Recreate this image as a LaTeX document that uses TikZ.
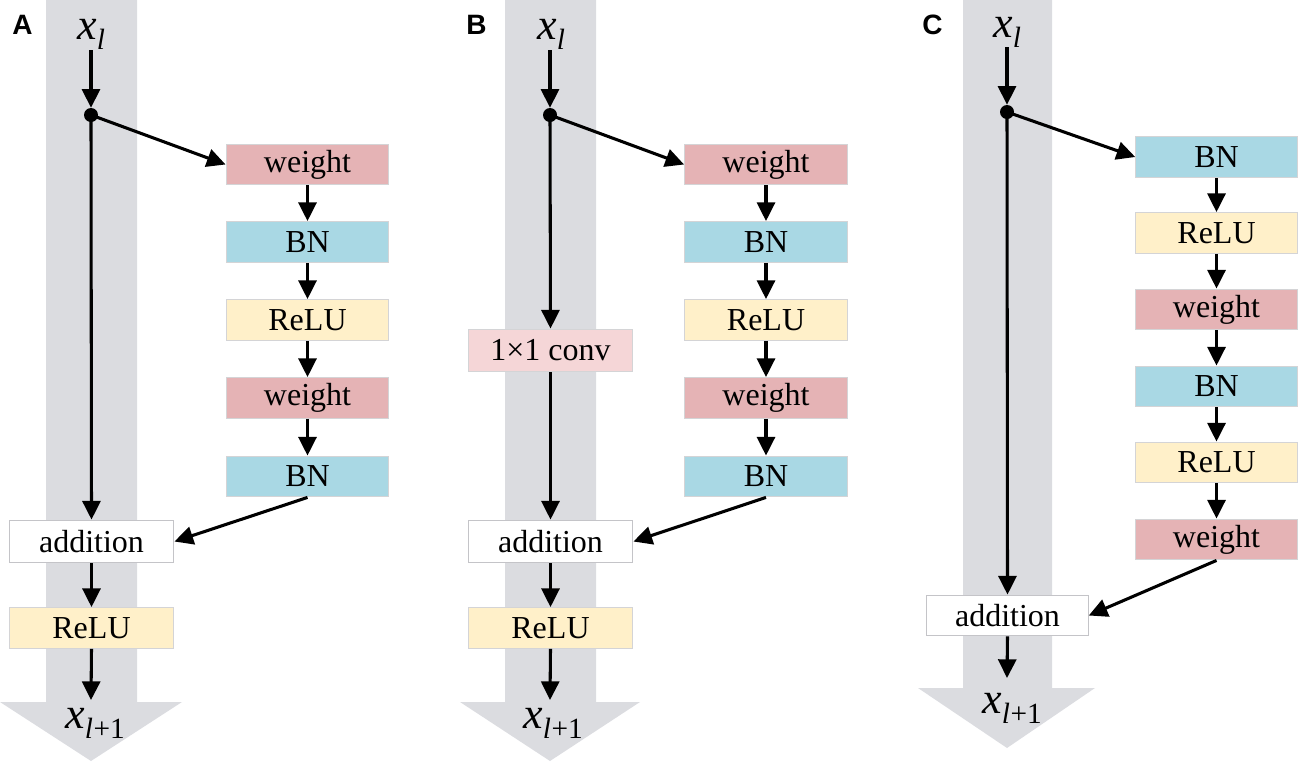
\documentclass[tikz,border=0pt]{standalone}
\usepackage{fontspec}
\setmainfont{Liberation Serif}
\newfontfamily\lsans{Liberation Sans}
\usetikzlibrary{arrows.meta}
\definecolor{colbg}{HTML}{DBDCE0}
\definecolor{wcol}{HTML}{E5B3B5}
\definecolor{bncol}{HTML}{A9D8E4}
\definecolor{rcol}{HTML}{FFF0C9}
\definecolor{ccol}{HTML}{F5D6D7}
\definecolor{bline}{HTML}{D4D4D6}
\definecolor{aline}{HTML}{C4C4C8}
\newcommand\xsubl{\fontsize{33}{33}\selectfont\textit{x}\raisebox{-8pt}{\fontsize{22}{22}\selectfont\textit{l}}}
\newcommand\xsublp{\fontsize{33}{33}\selectfont\textit{x}\raisebox{-8pt}{\fontsize{22}{22}\selectfont\textit{l}\kern0.5pt+1}}
\tikzset{
  box/.style={draw=bline, line width=0.9pt, minimum width=122pt, minimum height=30.5pt, inner sep=0pt, font=\fontsize{24}{26}\selectfont},
  wbox/.style={box, fill=wcol},
  bnbox/.style={box, fill=bncol},
  rbox/.style={box, fill=rcol},
  cbox/.style={box, fill=ccol, minimum width=123.5pt, minimum height=32pt},
  abox/.style={box, draw=aline, fill=white, minimum width=123.5pt, minimum height=32pt},
  dotn/.style={circle, fill=black, inner sep=0pt, minimum size=10.5pt},
  arr/.style={line width=2.3pt, -{Triangle[length=14pt,width=13.5pt]}},
  lbl/.style={anchor=base west, inner sep=0pt},
  plbl/.style={anchor=base west, inner sep=0pt, font=\lsans\bfseries\fontsize{21}{22}\selectfont},
}
\begin{document}
\begin{tikzpicture}[x=0.75pt,y=-0.75pt]
\useasboundingbox (0,0) rectangle (1299,761);
% columns
\fill[colbg] (46,0) -- (137,0) -- (137,702) -- (182,702) -- (91,761) -- (0,702) -- (46,702) -- cycle;
\fill[colbg] (505,0) -- (596,0) -- (596,702) -- (640,702) -- (550,761) -- (460,702) -- (505,702) -- cycle;
\fill[colbg] (963,0) -- (1052,0) -- (1052,688) -- (1095,688) -- (1007,748) -- (918,688) -- (963,688) -- cycle;

% ---------- Panel A
\node[plbl] (labA) at (12,34) {A};
\node[lbl] (xA) at (77,39) {\xsubl};
\node[lbl] (xoA) at (65,728) {\xsublp};
\coordinate (inA) at (91,50);
\node[dotn] (dA) at (91,115) {};
\node[wbox] (wA1) at (307.5,164.5) {weight};
\node[bnbox] (bA1) at (307.5,242) {BN};
\node[rbox] (rA1) at (307.5,320) {ReLU};
\node[wbox] (wA2) at (307.5,398) {weight};
\node[bnbox] (bA2) at (307.5,476.5) {BN};
\node[abox] (addA) at (91.5,541.5) {addition};
\node[rbox, minimum width=123.5pt] (rA2) at (91.5,628) {ReLU};
\coordinate (outA) at (91,700);
\draw[arr] (inA) -- (dA.north);
\draw[arr] (dA.center) -- (wA1.west);
\draw[arr] (dA.center) -- (addA.north);
\draw[arr] (wA1) -- (bA1);
\draw[arr] (bA1) -- (rA1);
\draw[arr] (rA1) -- (wA2);
\draw[arr] (wA2) -- (bA2);
\draw[arr] (bA2.south) -- (addA.east);
\draw[arr] (addA) -- (rA2);
\draw[arr] (rA2.south) -- (outA);

% ---------- Panel B
\node[plbl] (labB) at (466,34) {B};
\node[lbl] (xB) at (537,39) {\xsubl};
\node[lbl] (xoB) at (523,728) {\xsublp};
\coordinate (inB) at (550,50);
\node[dotn] (dB) at (550,115) {};
\node[wbox] (wB1) at (766,164.5) {weight};
\node[bnbox] (bB1) at (766,242) {BN};
\node[rbox] (rB1) at (766,320) {ReLU};
\node[wbox] (wB2) at (766,398) {weight};
\node[bnbox] (bB2) at (766,476.5) {BN};
\node[cbox] (cB) at (550.5,350.5) {1×1 conv};
\node[abox] (addB) at (550.5,541.5) {addition};
\node[rbox, minimum width=123.5pt] (rB2) at (550.5,628) {ReLU};
\coordinate (outB) at (550,700);
\draw[arr] (inB) -- (dB.north);
\draw[arr] (dB.center) -- (wB1.west);
\draw[arr] (dB.center) -- (cB.north);
\draw[arr] (cB) -- (addB);
\draw[arr] (wB1) -- (bB1);
\draw[arr] (bB1) -- (rB1);
\draw[arr] (rB1) -- (wB2);
\draw[arr] (wB2) -- (bB2);
\draw[arr] (bB2.south) -- (addB.east);
\draw[arr] (addB) -- (rB2);
\draw[arr] (rB2.south) -- (outB);

% ---------- Panel C
\node[plbl] (labC) at (922,34) {C};
\node[lbl] (xC) at (993,37) {\xsubl};
\node[lbl] (xoC) at (982,713) {\xsublp};
\coordinate (inC) at (1007,47);
\node[dotn] (dC) at (1007,112) {};
\node[bnbox, minimum width=121pt] (bC1) at (1216.5,157) {BN};
\node[rbox, minimum width=121pt] (rC1) at (1216.5,233) {ReLU};
\node[wbox, minimum width=121pt] (wC1) at (1216.5,309.5) {weight};
\node[bnbox, minimum width=121pt] (bC2) at (1216.5,386.5) {BN};
\node[rbox, minimum width=121pt] (rC2) at (1216.5,462.5) {ReLU};
\node[wbox, minimum width=121pt] (wC2) at (1216.5,539.5) {weight};
\node[abox, minimum width=121pt, minimum height=30.5pt] (addC) at (1007.5,615.5) {addition};
\coordinate (outC) at (1007,678);
\draw[arr] (inC) -- (dC.north);
\draw[arr] (dC.center) -- (bC1.west);
\draw[arr] (dC.center) -- (addC.north);
\draw[arr] (bC1) -- (rC1);
\draw[arr] (rC1) -- (wC1);
\draw[arr] (wC1) -- (bC2);
\draw[arr] (bC2) -- (rC2);
\draw[arr] (rC2) -- (wC2);
\draw[arr] (wC2.south) -- (addC.east);
\draw[arr] (addC.south) -- (outC);
\end{tikzpicture}
\end{document}
